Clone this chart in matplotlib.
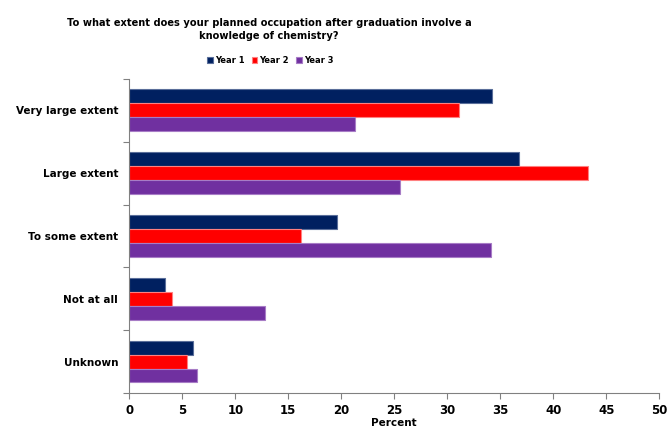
import matplotlib.pyplot as plt
import numpy as np

categories = ['Very large extent', 'Large extent', 'To some extent', 'Not at all', 'Unknown']
year1 = [34.2, 36.8, 19.6, 3.4, 6.0]
year2 = [31.1, 43.3, 16.2, 4.0, 5.4]
year3 = [21.3, 25.5, 34.1, 12.8, 6.4]
series = ['Year 1', 'Year 2', 'Year 3']
colors = ['#002060', '#FF0000', '#7030A0']
edges = ['#5a6e9a', '#ff8080', '#a77cc6']

plt.rcParams['font.family'] = 'DejaVu Sans'
plt.rcParams['font.weight'] = 'bold'

fig = plt.figure(figsize=(6.69, 4.26), dpi=100)
ax = fig.add_axes([0.1933, 0.0775, 0.7922, 0.7371])

y = np.arange(len(categories))
h = 0.222
for i, (vals, name) in enumerate(zip([year1, year2, year3], series)):
    ax.barh(y + (i - 1) * h, vals, height=h, color=colors[i],
            edgecolor=edges[i], linewidth=0.8, label=name)

ax.set_ylim(len(categories) - 0.5, -0.5)
ax.set_xlim(0, 50)
ax.set_xticks(np.arange(0, 51, 5))

# category names sit between the boundary ticks
ax.set_yticks(np.arange(-0.5, len(categories), 1))
ax.set_yticklabels([])
ax.set_yticks(y, minor=True)
ax.set_yticklabels(categories, minor=True, fontsize=7.5, fontweight='bold')
ax.tick_params(axis='y', which='minor', length=0, pad=8)
ax.tick_params(axis='y', which='major', length=4, color='#808080')
ax.tick_params(axis='x', length=4, color='#808080', labelsize=8.5, pad=4)
for lab in ax.get_xticklabels():
    lab.set_fontweight('bold')

for s in ['top', 'right']:
    ax.spines[s].set_visible(False)
for s in ['left', 'bottom']:
    ax.spines[s].set_color('#808080')

ax.set_xlabel('Percent', fontsize=7.5, fontweight='bold', labelpad=1)

fig.text(0.402, 0.931, 'To what extent does your planned occupation after graduation involve a\nknowledge of chemistry?',
         ha='center', va='center', fontsize=7.1, fontweight='bold', linespacing=1.45)

fig.legend(loc='center', bbox_to_anchor=(0.404, 0.859), ncol=3, frameon=False,
           fontsize=6, handlelength=0.7, handleheight=0.7, handletextpad=0.25,
           columnspacing=0.8, borderpad=0)

fig.savefig('out.png', dpi=100)
